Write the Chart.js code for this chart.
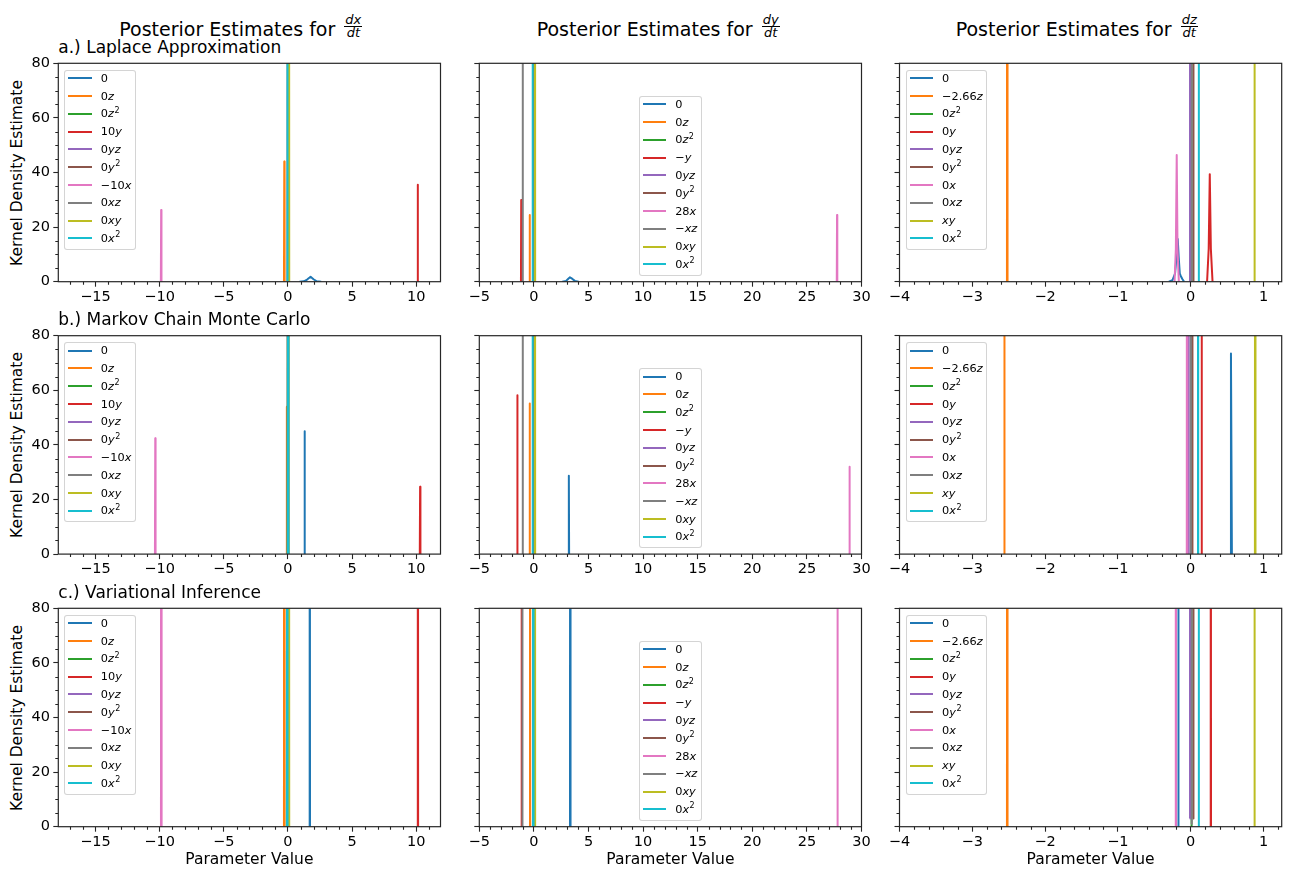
<!DOCTYPE html>
<html>
<head>
<meta charset="utf-8">
<script src="https://cdn.jsdelivr.net/npm/chart.js@4.4.1/dist/chart.umd.min.js"></script>
<style>
  html, body { margin: 0; padding: 0; background: #fff; width: 1290px; height: 869px; overflow: hidden;
    font-family: 'DejaVu Sans', sans-serif; color: #000; }
  canvas { position: absolute; }
  .title { position: absolute; font-size: 19px; line-height: 19px; white-space: nowrap; }
  .frac { display: inline-block; vertical-align: baseline; text-align: center; font-size: 13px; font-style: italic;
    margin-left: 3px; position: relative; top: 1px; }
  .frac .num { display: block; line-height: 10px; border-bottom: 1px solid #000; padding: 0 1px 1px 1px; }
  .frac .den { display: block; line-height: 11px; }
  .sub { position: absolute; font-size: 17px; line-height: 17px; white-space: nowrap; }
  .ylab { position: absolute; font-size: 15.5px; line-height: 15.5px; white-space: nowrap;
    transform: translate(-50%, -50%) rotate(-90deg); }
  .xlab { position: absolute; font-size: 15.5px; line-height: 15.5px; white-space: nowrap; transform: translateX(-50%); }
  .legend { position: absolute; box-sizing: border-box; background: rgba(255,255,255,0.8);
    border: 1px solid rgba(204,204,204,0.85); border-radius: 3px; font-size: 11.3px; height: 180px; }
  .legend .rows { margin-top: -1.6px; }
  .legend .row { height: 17.8px; display: flex; align-items: center; padding-left: 3px; white-space: nowrap; }
  .legend .sw { width: 23.5px; height: 2px; margin-right: 9px; flex: none; }
  .legend sup { font-size: 8px; line-height: 0; vertical-align: 4.5px; margin-left: 0.5px; }
</style>
</head>
<body>
<script>
// ---------------- DATA ----------------
const columnVars = ['x', 'y', 'z'];
const methodTitles = ['a.) Laplace Approximation', 'b.) Markov Chain Monte Carlo', 'c.) Variational Inference'];
const yAxisTitle = 'Kernel Density Estimate';
const xAxisTitle = 'Parameter Value';

const termsDx = ['0', '0z', '0z²', '10y', '0yz', '0y²', '−10x', '0xz', '0xy', '0x²'];
const termsDy = ['0', '0z', '0z²', '−y', '0yz', '0y²', '28x', '−xz', '0xy', '0x²'];
const termsDz = ['0', '−2.66z', '0z²', '0y', '0yz', '0y²', '0x', '0xz', 'xy', '0x²'];

const xTicksDx = [-15, -10, -5, 0, 5, 10];
const xTicksDy = [-5, 0, 5, 10, 15, 20, 25, 30];
const xTicksDz = [-4, -3, -2, -1, 0, 1];
const yTicks = [0, 20, 40, 60, 80];

const xRangeDx = [-17.9, 11.9];
const xRangeDy = [-5, 30];
const xRangeDz = [-4, 1.25];
const yRange = [0, 80];

// each curve: [parameter value, density] points (one curve per term, same order as terms)
const laplaceDx = [
  [[0.9,0],[1.25,0.15],[1.5,0.8],[1.77,1.8],[2.0,0.9],[2.25,0.15],[2.6,0]],
  [[-0.305,0],[-0.28,44],[-0.255,0]],
  [[-0.025,0],[0,400],[0.025,0]],
  [[10.095,0],[10.12,35.5],[10.145,0]],
  [[-0.015,0],[0.01,400],[0.035,0]],
  [[-0.005,0],[0.02,400],[0.045,0]],
  [[-9.905,0],[-9.88,26.3],[-9.855,0]],
  [[-0.025,0],[0,400],[0.025,0]],
  [[0.055,0],[0.08,400],[0.105,0]],
  [[-0.065,0],[-0.04,400],[-0.015,0]]
];
const mcmcDx = [
  [[1.275,0],[1.3,45],[1.325,0]],
  [[-0.105,0],[-0.08,54],[-0.055,0]],
  [[-0.025,0],[0,400],[0.025,0]],
  [[10.285,0],[10.31,24.7],[10.335,0]],
  [[-0.025,0],[0,400],[0.025,0]],
  [[-0.015,0],[0.01,400],[0.035,0]],
  [[-10.365,0],[-10.34,42.4],[-10.315,0]],
  [[-0.025,0],[0,400],[0.025,0]],
  [[-0.005,0],[0.02,400],[0.045,0]],
  [[-0.005,0],[0.02,400],[0.045,0]]
];
const viDx = [
  [[1.675,0],[1.7,400],[1.725,0]],
  [[-0.305,0],[-0.28,400],[-0.255,0]],
  [[-0.075,0],[-0.05,400],[-0.025,0]],
  [[10.105,0],[10.13,400],[10.155,0]],
  [[-0.025,0],[0,400],[0.025,0]],
  [[-0.015,0],[0.01,400],[0.035,0]],
  [[-9.895,0],[-9.87,400],[-9.845,0]],
  [[-0.025,0],[0,400],[0.025,0]],
  [[0.055,0],[0.08,400],[0.105,0]],
  [[-0.075,0],[-0.05,400],[-0.025,0]]
];
const laplaceDy = [
  [[2.6,0],[2.95,0.3],[3.15,1.1],[3.3,1.6],[3.5,1.1],[3.75,0.3],[4.1,0]],
  [[-0.415,0],[-0.39,24.4],[-0.365,0]],
  [[-0.025,0],[0,400],[0.025,0]],
  [[-1.185,0],[-1.16,29.9],[-1.135,0]],
  [[-0.025,0],[0,400],[0.025,0]],
  [[-0.015,0],[0.01,400],[0.035,0]],
  [[27.735,0],[27.76,24.4],[27.785,0]],
  [[-1.055,0],[-1.03,400],[-1.005,0]],
  [[0.065,0],[0.09,400],[0.115,0]],
  [[-0.145,0],[-0.12,400],[-0.095,0]]
];
const mcmcDy = [
  [[3.175,0],[3.2,28.7],[3.225,0]],
  [[-0.415,0],[-0.39,55.2],[-0.365,0]],
  [[-0.025,0],[0,400],[0.025,0]],
  [[-1.545,0],[-1.52,58.2],[-1.495,0]],
  [[-0.025,0],[0,400],[0.025,0]],
  [[-0.015,0],[0.01,400],[0.035,0]],
  [[28.875,0],[28.9,32],[28.925,0]],
  [[-1.055,0],[-1.03,400],[-1.005,0]],
  [[0.065,0],[0.09,400],[0.115,0]],
  [[-0.145,0],[-0.12,400],[-0.095,0]]
];
const viDy = [
  [[3.305,0],[3.33,400],[3.355,0]],
  [[-0.385,0],[-0.36,400],[-0.335,0]],
  [[-0.025,0],[0,400],[0.025,0]],
  [[-1.155,0],[-1.13,400],[-1.105,0]],
  [[-0.025,0],[0,400],[0.025,0]],
  [[-0.015,0],[0.01,400],[0.035,0]],
  [[27.775,0],[27.8,400],[27.825,0]],
  [[-1.085,0],[-1.06,400],[-1.035,0]],
  [[0.065,0],[0.09,400],[0.115,0]],
  [[-0.085,0],[-0.06,400],[-0.035,0]]
];
const laplaceDz = [
  [[-0.3,0],[-0.25,0.6],[-0.215,3],[-0.195,9],[-0.178,15.6],[-0.165,9],[-0.15,3],[-0.135,2],[-0.115,1],[-0.09,0]],
  [[-2.524,0],[-2.52,400],[-2.516,0]],
  [[0.006,0],[0.01,400],[0.014,0]],
  [[0.225,0],[0.247,12],[0.262,39.4],[0.277,12],[0.3,0]],
  [[-0.014,0],[-0.01,400],[-0.006,0]],
  [[0.032,0],[0.036,400],[0.04,0]],
  [[-0.222,0],[-0.204,12],[-0.192,46.4],[-0.181,12],[-0.163,0]],
  [[0.008,0],[0.012,400],[0.016,0]],
  [[0.872,0],[0.876,400],[0.88,0]],
  [[0.106,0],[0.11,400],[0.114,0]]
];
const mcmcDz = [
  [[0.54,0],[0.553,73.5],[0.566,0]],
  [[-2.564,0],[-2.56,400],[-2.556,0]],
  [[-0.004,0],[0,400],[0.004,0]],
  [[0.146,0],[0.15,400],[0.154,0]],
  [[-0.034,0],[-0.03,400],[-0.026,0]],
  [[0.016,0],[0.02,400],[0.024,0]],
  [[-0.054,0],[-0.05,400],[-0.046,0]],
  [[-0.004,0],[0,400],[0.004,0]],
  [[0.882,0],[0.886,400],[0.89,0]],
  [[0.096,0],[0.1,400],[0.104,0]]
];
const viDz = [
  [[-0.174,0],[-0.17,400],[-0.166,0]],
  [[-2.524,0],[-2.52,400],[-2.516,0]],
  [[0.006,0],[0.01,400],[0.014,0]],
  [[0.271,0],[0.275,400],[0.279,0]],
  [[-0.014,3],[-0.01,400],[-0.006,3]],
  [[0.032,3],[0.036,400],[0.04,3]],
  [[-0.209,0],[-0.205,400],[-0.201,0]],
  [[0.008,1],[0.012,400],[0.016,1]],
  [[0.872,0],[0.876,400],[0.88,0]],
  [[0.106,0],[0.11,400],[0.114,0]]
];

// ---------------- STYLE / LAYOUT ----------------
const seriesColors = ['#1f77b4','#ff7f0e','#2ca02c','#d62728','#9467bd','#8c564b','#e377c2','#7f7f7f','#bcbd22','#17becf'];
const PLOT_LEFT = [58.3, 479.3, 899.5];
const PLOT_TOP = [63.3, 335.7, 608.3];
const PLOT_W = 382.2, PLOT_H = 218.4;
const TITLE_LEFT = [119.3, 536.7, 955.7];
const LEGEND_W = [71.7, 63.4, 81.6];
const TICK_FONT = { family: 'DejaVu Sans', size: 14.5 };
const AXIS_COLOR = '#262626';

const panels = [
  [laplaceDx, laplaceDy, laplaceDz],
  [mcmcDx, mcmcDy, mcmcDz],
  [viDx, viDy, viDz]
];
const termsByCol = [termsDx, termsDy, termsDz];
const xTicksByCol = [xTicksDx, xTicksDy, xTicksDz];
const xRangeByCol = [xRangeDx, xRangeDy, xRangeDz];
const xMinorStep = [1, 1, 0.2];
const yMinorStep = 5;

function fmtTick(v) { return v < 0 ? '\u2212' + Math.abs(v) : String(v); }
function mathLabel(s) {
  return s.replace(/[a-z]/g, m => '<i>' + m + '</i>').replace(/²/g, '<sup>2</sup>');
}
function addDiv(cls, html, style) {
  const d = document.createElement('div');
  d.className = cls; d.innerHTML = html;
  Object.assign(d.style, style);
  document.body.appendChild(d);
  return d;
}

const frameMinorPlugin = {
  id: 'frameMinor',
  afterDatasetsDraw(chart, args, opts) {
    const { ctx, chartArea: a, scales } = chart;
    const xs = scales.x, ys = scales.y;
    ctx.save();
    ctx.strokeStyle = AXIS_COLOR;
    ctx.lineWidth = 1.1;
    ctx.beginPath();
    const isMajor = (v, list) => list.some(t => Math.abs(t - v) < 1e-6);
    for (let k = Math.ceil(xs.min / opts.xStep - 1e-9); k * opts.xStep <= xs.max + 1e-9; k++) {
      const v = k * opts.xStep;
      if (isMajor(v, opts.xMajor)) continue;
      const px = Math.round(xs.getPixelForValue(v)) + 0.5;
      ctx.moveTo(px, a.bottom); ctx.lineTo(px, a.bottom + 3);
    }
    for (let k = Math.ceil(ys.min / opts.yStep); k * opts.yStep <= ys.max; k++) {
      const v = k * opts.yStep;
      if (isMajor(v, opts.yMajor)) continue;
      const py = Math.round(ys.getPixelForValue(v)) + 0.5;
      ctx.moveTo(a.left, py); ctx.lineTo(a.left - 3, py);
    }
    ctx.stroke();
    ctx.lineWidth = 1.2;
    ctx.strokeRect(a.left, a.top, a.right - a.left, a.bottom - a.top);
    ctx.restore();
  }
};

// ---------------- BUILD ----------------
for (let c = 0; c < 3; c++) {
  const v = columnVars[c];
  addDiv('title', 'Posterior Estimates for <span class="frac"><span class="num">d' + v + '</span><span class="den">dt</span></span>',
    { left: TITLE_LEFT[c] + 'px', top: (30 - 16.08) + 'px' });
}

for (let r = 0; r < 3; r++) {
  addDiv('sub', methodTitles[r], { left: PLOT_LEFT[0] + 'px', top: (PLOT_TOP[r] - 10 - 14.39) + 'px' });
  addDiv('ylab', yAxisTitle, { left: '17.5px', top: (PLOT_TOP[r] + PLOT_H / 2) + 'px' });

  for (let c = 0; c < 3; c++) {
    const canvasLeft = Math.floor(PLOT_LEFT[c] - 45);
    const yW = PLOT_LEFT[c] - canvasLeft;
    const canvasTop = Math.floor(PLOT_TOP[r] - 12);
    const padTop = PLOT_TOP[r] - canvasTop;
    const cw = Math.ceil(yW + PLOT_W + 16);
    const padRight = cw - yW - PLOT_W;
    const ch = Math.ceil(padTop + PLOT_H + 30);
    const xH = ch - padTop - PLOT_H;

    const canvas = document.createElement('canvas');
    canvas.width = cw; canvas.height = ch;
    canvas.style.left = canvasLeft + 'px'; canvas.style.top = canvasTop + 'px';
    canvas.style.width = cw + 'px'; canvas.style.height = ch + 'px';
    document.body.appendChild(canvas);

    const curves = panels[r][c];
    const terms = termsByCol[c];
    const xTicks = xTicksByCol[c];
    const chart = new Chart(canvas, {
      type: 'scatter',
      data: {
        datasets: curves.map((pts, i) => ({
          label: terms[i],
          data: pts.map(p => ({ x: p[0], y: p[1] })),
          showLine: true,
          borderColor: seriesColors[i],
          backgroundColor: seriesColors[i],
          borderWidth: 2,
          pointRadius: 0,
          pointHoverRadius: 0,
          tension: 0,
          fill: false,
          borderJoinStyle: 'round',
          order: curves.length - i,
          clip: 0
        }))
      },
      options: {
        responsive: false,
        animation: false,
        events: [],
        devicePixelRatio: 1,
        layout: { padding: { left: 0, top: padTop, right: padRight, bottom: 0 } },
        plugins: {
          legend: { display: false },
          tooltip: { enabled: false },
          frameMinor: { xStep: xMinorStep[c], yStep: yMinorStep, xMajor: xTicks, yMajor: yTicks }
        },
        scales: {
          x: {
            type: 'linear',
            min: xRangeByCol[c][0], max: xRangeByCol[c][1],
            afterBuildTicks: s => { s.ticks = xTicks.map(t => ({ value: t })); },
            afterFit: s => { s.height = xH; },
            grid: { drawOnChartArea: false, drawTicks: true, tickLength: 5, tickWidth: 1.1, tickColor: AXIS_COLOR },
            border: { display: false },
            ticks: { font: TICK_FONT, color: '#000', padding: 1.5, maxRotation: 0, autoSkip: false, callback: fmtTick }
          },
          y: {
            type: 'linear',
            min: yRange[0], max: yRange[1],
            afterBuildTicks: s => { s.ticks = yTicks.map(t => ({ value: t })); },
            afterFit: s => { s.width = yW; },
            grid: { drawOnChartArea: false, drawTicks: true, tickLength: 5, tickWidth: 1.1, tickColor: AXIS_COLOR },
            border: { display: false },
            ticks: { display: c === 0, font: TICK_FONT, color: '#000', padding: 3.3, autoSkip: false, callback: fmtTick }
          }
        }
      },
      plugins: [frameMinorPlugin]
    });

    // keep plot area exactly where the reference has it
    const a = chart.chartArea;
    const dxs = PLOT_LEFT[c] - (canvasLeft + a.left);
    const dys = PLOT_TOP[r] - (canvasTop + a.top);
    canvas.style.left = (canvasLeft + dxs) + 'px';
    canvas.style.top = (canvasTop + dys) + 'px';
    const areaL = PLOT_LEFT[c], areaT = PLOT_TOP[r];
    const areaW = a.right - a.left, areaH = a.bottom - a.top;

    // legend
    const lg = document.createElement('div');
    lg.className = 'legend';
    lg.style.width = LEGEND_W[c] + 'px';
    if (c === 1) {
      lg.style.left = (areaL + areaW / 2 - LEGEND_W[c] / 2) + 'px';
      lg.style.top = (areaT + areaH - 5.7 - 180) + 'px';
    } else {
      lg.style.left = (areaL + 6) + 'px';
      lg.style.top = (areaT + 6.7) + 'px';
    }
    let html = '<div class="rows">';
    terms.forEach((t, i) => {
      html += '<div class="row"><span class="sw" style="background:' + seriesColors[i] + '"></span><span>' + mathLabel(t) + '</span></div>';
    });
    html += '</div>';
    lg.innerHTML = html;
    document.body.appendChild(lg);

    if (r === 2) {
      addDiv('xlab', xAxisTitle, { left: (areaL + areaW / 2) + 'px', top: '851.9px' });
    }
  }
}
</script>
</body>
</html>
